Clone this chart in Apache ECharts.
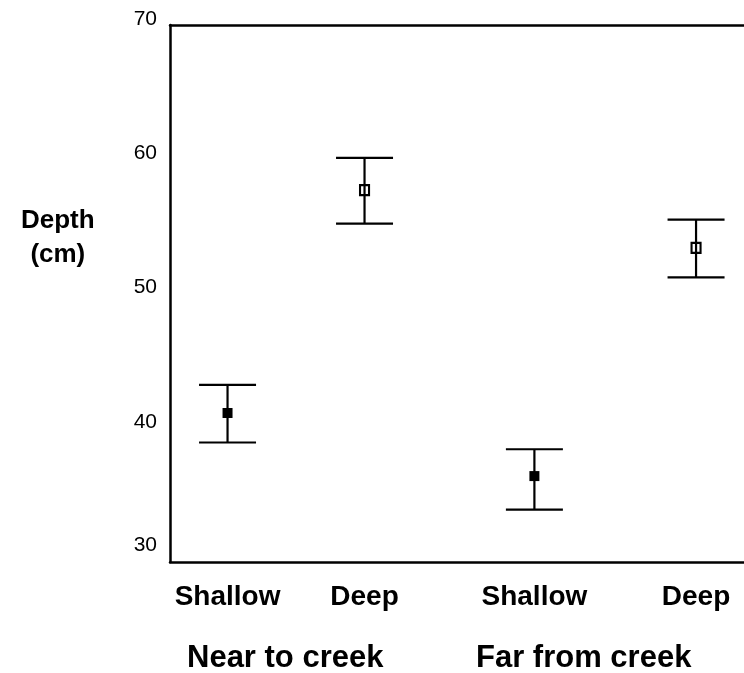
<!DOCTYPE html>
<html>
<head>
<meta charset="utf-8">
<script src="https://cdn.jsdelivr.net/npm/echarts@6/dist/echarts.min.js"></script>
<style>
  html, body { margin: 0; padding: 0; background: #fff; }
  #chart { width: 744px; height: 673px; }
</style>
</head>
<body>
<div id="chart"></div>
<script>
// Soil depth by position (near / far from creek) and layer (shallow / deep)
const categories = ['Shallow', 'Deep', 'Shallow', 'Deep'];
const groups = ['Near to creek', 'Far from creek'];
const slots = [1, 2, 3.24, 4.42];          // horizontal slot of each category
const isDeep = [false, true, false, true];
const means = [41.1, 57.7, 36.4, 53.4];
const upper = [43.2, 60.1, 38.4, 55.5];
const lower = [38.9, 55.2, 33.9, 51.2];
const yTicks = [30, 40, 50, 60, 70];
const yTitle = ['Depth', '(cm)'];

const FONT = '"Liberation Sans", Arial, Helvetica, sans-serif';

const barData = slots.map((s, i) => [s, lower[i], upper[i]]);
const shallowPts = [], deepPts = [];
slots.forEach((s, i) => (isDeep[i] ? deepPts : shallowPts).push([s, means[i]]));

const chart = echarts.init(document.getElementById('chart'), null, { renderer: 'canvas' });

chart.setOption({
  backgroundColor: '#fff',
  animation: false,
  grid: { left: 170, right: 0, top: 25, bottom: 111 },
  xAxis: [
    {
      type: 'value',
      min: 0.58,
      max: 4.77,
      position: 'bottom',
      axisLine: { show: true, onZero: false, lineStyle: { color: '#000', width: 2.5 } },
      axisTick: { show: false },
      splitLine: { show: false },
      axisLabel: {
        customValues: slots,
        margin: 21,
        color: '#000',
        fontFamily: FONT,
        fontWeight: 'bold',
        fontSize: 28,
        formatter: v => {
          const i = slots.findIndex(s => Math.abs(s - v) < 1e-6);
          return i >= 0 ? categories[i] : '';
        }
      }
    },
    {
      type: 'value',
      min: 0.58,
      max: 4.77,
      position: 'top',
      axisLine: { show: true, onZero: false, lineStyle: { color: '#000', width: 2.5 } },
      axisTick: { show: false },
      axisLabel: { show: false },
      splitLine: { show: false }
    }
  ],
  yAxis: {
    type: 'value',
    min: yTicks[0],
    max: yTicks[yTicks.length - 1],
    interval: 10,
    axisLine: { show: true, onZero: false, lineStyle: { color: '#000', width: 2.5 } },
    axisTick: { show: false },
    splitLine: { show: false },
    axisLabel: {
      margin: 13,
      color: '#000',
      fontFamily: FONT,
      fontSize: 21,
      formatter: v => (v === yTicks[0] ? '{lo|' + v + '}' : '{n|' + v + '}'),
      rich: {
        n: { fontFamily: FONT, fontSize: 21, color: '#000', padding: [0, 0, 12, 0] },
        lo: { fontFamily: FONT, fontSize: 21, color: '#000', padding: [0, 0, 33, 0] }
      }
    }
  },
  series: [
    {
      // error bars: vertical stem with horizontal caps
      type: 'custom',
      data: barData,
      encode: { x: 0, y: [1, 2] },
      renderItem: (params, api) => {
        const x = api.value(0);
        const lo = api.coord([x, api.value(1)]);
        const hi = api.coord([x, api.value(2)]);
        const half = 28.5;
        const style = { stroke: '#000', lineWidth: 2.2 };
        return {
          type: 'group',
          children: [
            { type: 'line', shape: { x1: lo[0], y1: lo[1], x2: hi[0], y2: hi[1] }, style },
            { type: 'line', shape: { x1: hi[0] - half, y1: hi[1], x2: hi[0] + half, y2: hi[1] }, style },
            { type: 'line', shape: { x1: lo[0] - half, y1: lo[1], x2: lo[0] + half, y2: lo[1] }, style }
          ]
        };
      },
      z: 2
    },
    {
      name: 'Shallow',
      type: 'scatter',
      data: shallowPts,
      symbol: 'rect',
      symbolSize: 10,
      itemStyle: { color: '#000', opacity: 1 },
      z: 3
    },
    {
      name: 'Deep',
      type: 'scatter',
      data: deepPts,
      symbol: 'rect',
      symbolSize: [9, 10],
      itemStyle: { color: 'rgba(0,0,0,0)', borderColor: '#000', borderWidth: 2.2, opacity: 1 },
      z: 3
    }
  ],
  graphic: [
    {
      type: 'text',
      left: 21,
      top: 204,
      style: {
        text: yTitle.join('\n'),
        x: 0,
        align: 'center',
        textAlign: 'center',
        fill: '#000',
        font: 'bold 26px ' + FONT,
        lineHeight: 34
      }
    },
    {
      type: 'text',
      left: 187,
      top: 643,
      style: { text: groups[0], fill: '#000', font: 'bold 31px ' + FONT }
    },
    {
      type: 'text',
      left: 476,
      top: 643,
      style: { text: groups[1], fill: '#000', font: 'bold 31px ' + FONT }
    }
  ]
});
</script>
</body>
</html>
